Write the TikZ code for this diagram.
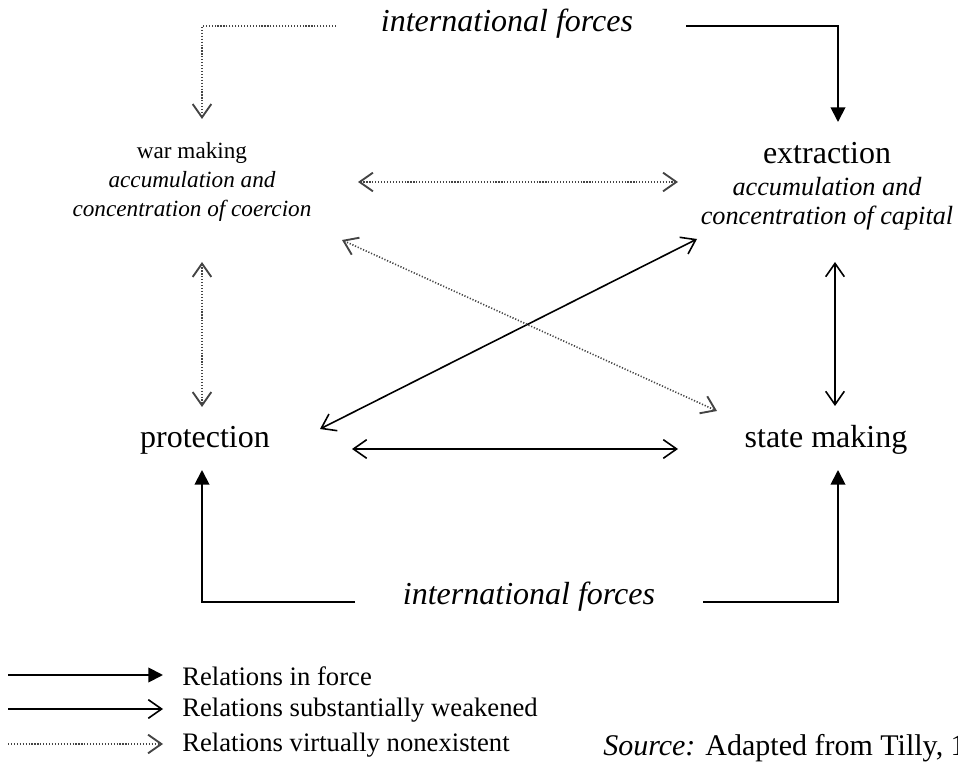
\documentclass[tikz,border=0pt]{standalone}
\usepackage{fontspec}
\setmainfont{Liberation Serif}
\usetikzlibrary{arrows.meta}
\definecolor{dotgray}{HTML}{444444}
\tikzset{
  lbl/.style={inner sep=0pt, font=\fontsize{24}{26}\selectfont},
  sublbl/.style={inner sep=0pt, align=center, font=\fontsize{17.4}{22}\selectfont},
  force/.style={line width=1.4pt, -{Triangle[length=11pt,width=11pt]}},
  weak/.style={line width=1.2pt, {Straight Barb[length=10pt,width=14pt,line width=1.2pt]}-{Straight Barb[length=10pt,width=14pt,line width=1.2pt]}},
  weakone/.style={line width=1.2pt, -{Straight Barb[length=10pt,width=14pt,line width=1.2pt]}},
  none/.style={dotgray, line width=1.2pt, dash pattern=on 0.9pt off 1.3pt, {Straight Barb[length=10pt,width=14pt,line width=1.4pt]}-{Straight Barb[length=10pt,width=14pt,line width=1.4pt]}},
  noneone/.style={dotgray, line width=1.2pt, dash pattern=on 0.9pt off 1.3pt, -{Straight Barb[length=10pt,width=14pt,line width=1.4pt]}},
  leg/.style={inner sep=0pt, anchor=west, font=\fontsize{20}{22}\selectfont},
}
\begin{document}
\begin{tikzpicture}[x=0.75pt,y=-0.75pt]
\useasboundingbox (0,0) rectangle (958,773);
% labels
\node[lbl] (itop) at (507,24) {\itshape international forces};
\node[lbl] (ibot) at (529,597) {\itshape international forces};
\node[sublbl] (war) at (192,182) {war making\\ \itshape accumulation and\\ \itshape concentration of coercion};
\node[lbl, align=center] (ext) at (827,186) {extraction\\[-2pt] {\fontsize{19.7}{24}\selectfont\itshape accumulation and}\\[-4pt] {\fontsize{19.7}{24}\selectfont\itshape concentration of capital}};
\node[lbl] (prot) at (205,440) {protection};
\node[lbl] (state) at (826,440) {state making};
% coordinates
\coordinate (t1) at (336,26); \coordinate (t2) at (202,26); \coordinate (t3) at (202,119);
\coordinate (r1) at (686,26); \coordinate (r2) at (838,26); \coordinate (r3) at (838,122);
\coordinate (b1) at (355,602); \coordinate (b2) at (202,602); \coordinate (b3) at (202,470);
\coordinate (c1) at (703,602); \coordinate (c2) at (838,602); \coordinate (c3) at (838,470);
% outer connectors
\draw[noneone] (t1) -- (t2) -- (t3);
\draw[force] (r1) -- (r2) -- (r3);
\draw[force] (b1) -- (b2) -- (b3);
\draw[force] (c1) -- (c2) -- (c3);
% middle
\draw[none] (358,182) coordinate (h1) -- (678,182) coordinate (h2);
\draw[none] (202,262) coordinate (v1) -- (202,407) coordinate (v2);
\draw[weak] (835,262) coordinate (w1) -- (835,406) coordinate (w2);
\draw[weak] (320,429) coordinate (d1) -- (697,239) coordinate (d2);
\draw[none] (342,240) coordinate (e1) -- (717,411) coordinate (e2);
\draw[weak] (352,449) coordinate (p1) -- (678,449) coordinate (p2);
% legend
\node[leg] (l1) at (182,676) {Relations in force};
\node[leg] (l2) at (182,710) {Relations substantially weakened};
\node[leg] (l3) at (182,745) {Relations virtually nonexistent};
\coordinate (k1) at (8,675); \coordinate (k2) at (8,709); \coordinate (k3) at (8,744);
\draw[force] (k1) -- (k1 -| 163,0);
\draw[weakone] (k2) -- (k2 -| 163,0);
\draw[noneone] (k3) -- (k3 -| 163,0);
\node[inner sep=0pt, anchor=west, font=\fontsize{22.5}{26}\selectfont] (src) at (603,748) {\itshape Source:\upshape{} Adapted from Tilly, 1990};
\end{tikzpicture}
\end{document}
